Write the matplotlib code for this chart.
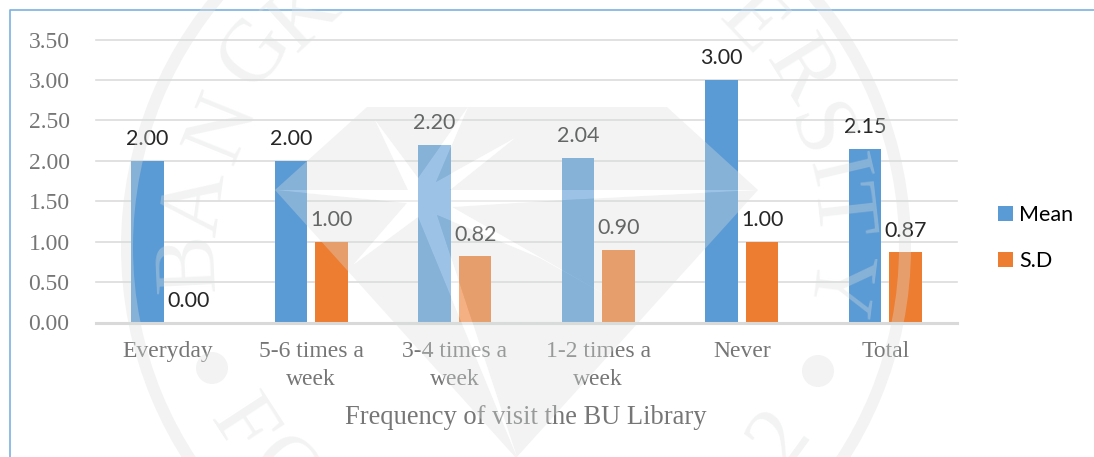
"""
Frequency of visit the BU Library: mean and S.D bars, with the seal watermark on top
"""

import numpy as np
import matplotlib
matplotlib.use('Agg')
import matplotlib.pyplot as plt
from matplotlib.lines import Line2D
from matplotlib.patches import Annulus, Circle, PathPatch
from matplotlib.path import Path
from matplotlib.transforms import Affine2D

categories = ['Everyday', '5-6 times a\nweek', '3-4 times a\nweek', '1-2 times a\nweek', 'Never', 'Total']
mean_values = [2.00, 2.00, 2.20, 2.04, 3.00, 2.15]
sd_values = [0.00, 1.00, 0.82, 0.90, 1.00, 0.87]
y_ticks = [0.0, 0.5, 1.0, 1.5, 2.0, 2.5, 3.0, 3.5]

# watermark outline, in image pixels
diamond_px = [(367, 107), (667, 107), (758, 190), (516, 458), (275, 190)]
star_px = [(275, 190), (408, 190), (375, 120), (418, 178), (468, 107), (436, 182), (515, 138),
           (450, 190), (758, 190), (547, 201), (452, 207), (620, 303), (540, 258), (437, 215),
           (517, 457), (418, 217), (353, 265), (407, 203)]
seal_letters = [('B', 182, 263), ('A', 188, 202), ('N', 215, 125), ('G', 248, 47), ('K', 298, 8),
                ('E', 758, 17), ('R', 807, 67), ('S', 824, 130), ('I', 842, 170), ('T', 848, 210),
                ('Y', 845, 287)]
seal_bottom_letters = [('F', 248, 422), ('O', 290, 468), ('2', 773, 433)]
seal_dots = [(212, 368), (818, 371)]

W, H = 1094, 457
seal_color = '#dadedc'
seal_alpha = 0.35
label_grey = '#767676'
serif = 'Liberation Serif'
sans = 'Lato'

fig = plt.figure(figsize=(W / 100, H / 100), dpi=100)
ax = fig.add_axes([96 / W, 1 - 322.5 / H, (957 - 96) / W, (322.5 - 39.5) / H])

x = np.arange(len(categories))
bar_w = 0.226
offset = 0.142
bars_mean = ax.bar(x - offset, mean_values, bar_w, color='#5b9bd5', label='Mean', zorder=3)
bars_sd = ax.bar(x + offset, sd_values, bar_w, color='#ed7d31', label='S.D', zorder=3)

for bars in (bars_mean, bars_sd):
    for b in bars:
        ax.annotate(f'{b.get_height():.2f}', (b.get_x() + b.get_width() / 2, b.get_height()),
                    xytext=(0, 15.5), textcoords='offset points', ha='center', va='center',
                    fontsize=15.5, family=sans, color='#262626', zorder=4)

ax.set_xlim(-0.5, 5.5)
ax.set_ylim(0, 3.5)
ax.set_yticks(y_ticks)
ax.set_yticklabels([f'{t:.2f}' for t in y_ticks], family=serif, fontsize=17, color=label_grey)
ax.set_xticks(x)
ax.set_xticklabels(categories, family=serif, fontsize=17, color=label_grey, linespacing=1.42)
ax.tick_params(axis='both', length=0)
ax.tick_params(axis='x', pad=13.5)
ax.tick_params(axis='y', pad=19)
ax.grid(axis='y', color='#dcdcdc', lw=1.2, zorder=1, clip_on=False)
ax.set_axisbelow(True)
for side in ['top', 'right', 'left']:
    ax.spines[side].set_visible(False)
ax.spines['bottom'].set_color('#d9d9d9')
ax.spines['bottom'].set_linewidth(2.2)
ax.spines['bottom'].set_zorder(5)

fig.text(526 / W, 1 - 417 / H, 'Frequency of visit the BU Library', family=serif, fontsize=19.1,
         color=label_grey, ha='center', va='center')

ax.legend(loc='center left', bbox_to_anchor=(998 / W, 1 - 238 / H), bbox_transform=fig.transFigure,
          frameon=False, prop={'family': sans, 'size': 15.5}, handlelength=0.68, handleheight=0.68,
          handletextpad=0.3, labelspacing=1.2, borderpad=0, borderaxespad=0)

# pixel coordinates of the image, y going down
px = Affine2D().scale(1 / W, -1 / H).translate(0, 1) + fig.transFigure

fig.add_artist(Line2D([1094, 10, 10], [10, 10, 457], transform=px, color='#7cb1e0', lw=1.2))

# seal watermark, drawn over the whole chart
hole = Path.make_compound_path(Path(diamond_px + diamond_px[:1], closed=True),
                               Path(star_px[::-1] + star_px[-1:], closed=True))
fig.add_artist(PathPatch(hole, transform=px, fc=seal_color, ec='none', alpha=seal_alpha, zorder=10))
fig.add_artist(PathPatch(Path(star_px + star_px[:1], closed=True), transform=px, fc='white', ec='none',
                         alpha=0.4, zorder=10))
fig.add_artist(Annulus((516, 247), 395, 12, transform=px, fc=seal_color, ec='none', alpha=seal_alpha,
                       zorder=10))
for dot in seal_dots:
    fig.add_artist(Circle(dot, 16, transform=px, fc=seal_color, ec='none', alpha=seal_alpha, zorder=10))


def seal_text(letter, lx, ly, rot):
    # text box centre sits below the capital, so shift the anchor along the letter's up axis
    phi = np.radians(rot)
    ax_x = lx + 9 * np.sin(phi)
    ax_y = ly + 9 * np.cos(phi)
    fig.text(ax_x / W, 1 - ax_y / H, letter, family=serif, fontsize=64, color=seal_color, alpha=seal_alpha,
             rotation=rot, ha='center', va='center', rotation_mode='anchor', zorder=10)


for letter, lx, ly in seal_letters:
    seal_text(letter, lx, ly, np.degrees(np.arctan2(247 - ly, lx - 516)) - 90)
for letter, lx, ly in seal_bottom_letters:
    seal_text(letter, lx, ly, np.degrees(np.arctan2(247 - ly, lx - 516)) + 90)

fig.savefig('out.png', dpi=100)
